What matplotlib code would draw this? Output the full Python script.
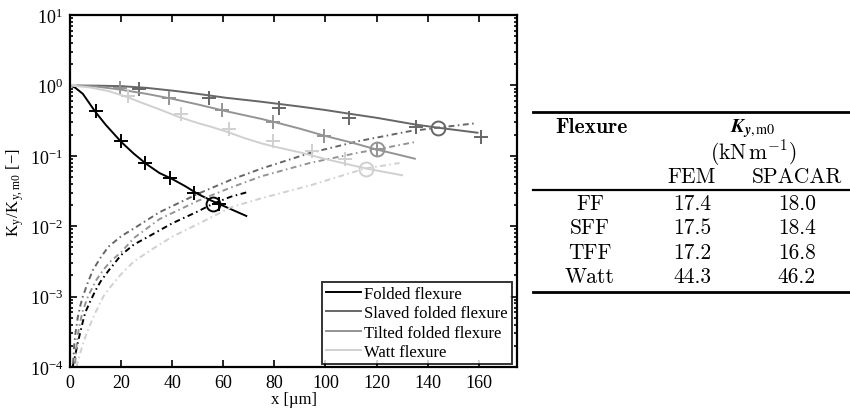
import matplotlib
matplotlib.use('Agg')
import matplotlib.pyplot as plt
from matplotlib.lines import Line2D
from matplotlib.ticker import LogLocator, NullFormatter, MultipleLocator

# ---- data ----
# Folded flexure
ff_x = [0, 2, 5, 10, 14, 20, 25, 30, 35, 40, 45, 50, 55, 60, 65, 69]
ff_k = [1.0, 0.93, 0.76, 0.417, 0.275, 0.158, 0.107, 0.076, 0.057, 0.0468, 0.0372, 0.0288, 0.0234, 0.0195, 0.0162, 0.014]
ff_fem_x = [0, 10, 20, 29.5, 39, 48.6, 58.5]
ff_fem_k = [1.0, 0.43, 0.162, 0.078, 0.049, 0.030, 0.0204]
ff_ratio_x = [1, 1.5, 2, 3, 4, 5, 6, 8, 10, 12, 15, 20, 25, 30, 40, 50, 56, 63, 69]
ff_ratio = [1.0e-4, 1.2e-4, 1.45e-4, 2.2e-4, 3.1e-4, 4.4e-4, 6.0e-4, 8.7e-4, 1.23e-3, 1.65e-3, 2.32e-3, 3.9e-3, 5.5e-3, 6.9e-3, 1.10e-2, 1.62e-2, 2.09e-2, 2.63e-2, 3.02e-2]
ff_cross = [56, 0.021]

# Slaved folded flexure
sff_x = [0, 10, 20, 30, 41.5, 50, 61, 74.5, 90, 100, 109, 120, 135, 144, 159.5]
sff_k = [1.0, 0.993, 0.977, 0.923, 0.832, 0.759, 0.668, 0.589, 0.501, 0.447, 0.398, 0.347, 0.279, 0.251, 0.213]
sff_fem_x = [0, 26.9, 54.5, 81.7, 109.1, 135.5, 160.7]
sff_fem_k = [1.0, 0.877, 0.668, 0.482, 0.340, 0.254, 0.185]
sff_ratio_x = [1.2, 1.6, 2, 3, 4, 5, 7, 9, 12, 15, 20, 25, 35, 50, 63, 75, 94, 113, 133, 144, 158]
sff_ratio = [1.12e-4, 2.0e-4, 2.82e-4, 5.0e-4, 7.4e-4, 1.0e-3, 1.6e-3, 2.4e-3, 3.6e-3, 5.1e-3, 7.2e-3, 9.3e-3, 1.58e-2, 2.88e-2, 4.57e-2, 6.6e-2, 0.110, 0.162, 0.224, 0.251, 0.288]
sff_cross = [144, 0.251]

# Tilted folded flexure
tff_x = [0, 10, 19.3, 30, 40, 50, 61, 74.5, 80, 90, 100, 110, 120, 128, 135]
tff_k = [1.0, 0.966, 0.877, 0.759, 0.646, 0.537, 0.431, 0.337, 0.302, 0.243, 0.191, 0.155, 0.123, 0.105, 0.091]
tff_fem_x = [0, 19.6, 38.9, 59.5, 79.5, 99.3, 120]
tff_fem_k = [1.0, 0.927, 0.668, 0.447, 0.302, 0.191, 0.123]
tff_ratio_x = [2, 2.5, 3, 4, 5, 7, 10, 13, 16, 20, 25, 35, 50, 63, 75, 94, 113, 120, 135]
tff_ratio = [1.12e-4, 1.9e-4, 2.82e-4, 4.4e-4, 6.3e-4, 1.0e-3, 1.66e-3, 2.4e-3, 3.2e-3, 4.27e-3, 6.8e-3, 1.26e-2, 2.29e-2, 3.55e-2, 5.13e-2, 7.94e-2, 0.111, 0.123, 0.157]
tff_cross = [120.3, 0.123]

# Watt flexure
watt_x = [0, 8, 15, 22, 28, 35, 42, 50, 55, 62, 68, 75, 80, 90, 100, 110, 116, 122, 130]
watt_k = [1.0, 0.933, 0.832, 0.692, 0.569, 0.457, 0.363, 0.292, 0.260, 0.216, 0.180, 0.150, 0.135, 0.112, 0.090, 0.074, 0.066, 0.060, 0.053]
watt_fem_x = [0, 22.6, 43.6, 62.4, 79.6, 94.8, 107.8]
watt_fem_k = [1.0, 0.708, 0.389, 0.237, 0.162, 0.117, 0.091]
watt_ratio_x = [2.5, 4, 5.5, 7.6, 10, 13, 16, 20, 25, 32, 40, 50, 63, 75, 94, 115.5, 129]
watt_ratio = [1.0e-4, 1.58e-4, 2.4e-4, 3.8e-4, 6.0e-4, 1.0e-3, 1.4e-3, 2.09e-3, 3.16e-3, 4.68e-3, 7.1e-3, 1.07e-2, 1.86e-2, 2.5e-2, 3.8e-2, 6.6e-2, 7.9e-2]
watt_cross = [115.8, 0.066]

labels = ['Folded flexure', 'Slaved folded flexure', 'Tilted folded flexure', 'Watt flexure']
colors = ['#000000', '#666666', '#949494', '#d0d0d0']

# table on the right
tab_rows = ['FF', 'SFF', 'TFF', 'Watt']
tab_fem = ['17.4', '17.5', '17.2', '44.3']
tab_spacar = ['18.0', '18.4', '16.8', '46.2']


plt.rcParams['font.family'] = 'Liberation Serif'
plt.rcParams['mathtext.fontset'] = 'cm'

fig = plt.figure(figsize=(8.5, 4.1), dpi=100)
ax = fig.add_axes([0.0824, 0.1024, 0.5259, 0.8585])

series = [
    (ff_x, ff_k, ff_fem_x, ff_fem_k, ff_ratio_x, ff_ratio, ff_cross),
    (sff_x, sff_k, sff_fem_x, sff_fem_k, sff_ratio_x, sff_ratio, sff_cross),
    (tff_x, tff_k, tff_fem_x, tff_fem_k, tff_ratio_x, tff_ratio, tff_cross),
    (watt_x, watt_k, watt_fem_x, watt_fem_k, watt_ratio_x, watt_ratio, watt_cross),
]

dashdot = (0, (3, 1.8, 0.8, 1.8))
for (x, k, fx, fk, rx, r, cr), c in zip(series, colors):
    ax.plot(x, k, color=c, lw=1.4)
    ax.plot(rx, r, color=c, lw=1.4, linestyle=dashdot)
    ax.plot(fx, fk, '+', color=c, ms=10, mew=1.4)
    ax.plot(cr[0], cr[1], 'o', mfc='none', mec=c, ms=10, mew=1.4)

ax.set_yscale('log')
ax.set_xlim(0, 175)
ax.set_ylim(1e-4, 10)
ax.xaxis.set_major_locator(MultipleLocator(20))
ax.yaxis.set_major_locator(LogLocator(base=10, numticks=10))
ax.yaxis.set_minor_locator(LogLocator(base=10, subs=range(2, 10), numticks=20))
ax.yaxis.set_minor_formatter(NullFormatter())
ax.tick_params(which='both', direction='in', top=True, right=True, labelsize=13, width=1.2)
ax.tick_params(which='major', length=5, pad=5)
ax.tick_params(which='minor', length=2.5)
for s in ax.spines.values():
    s.set_linewidth(1.6)

ax.set_xlabel('x [µm]', fontsize=12, labelpad=0)
ax.set_ylabel(r'K$_\mathdefault{y}$/K$_\mathdefault{y,m0}$ [−]', fontsize=12, labelpad=2)

handles = [Line2D([], [], color=c, lw=1.4) for c in colors]
leg = ax.legend(handles, labels, loc='lower right', bbox_to_anchor=(0.989, 0.0085),
                fontsize=12, frameon=True, fancybox=False, edgecolor='black',
                handlelength=2.1, handletextpad=0.2, labelspacing=0.2,
                borderpad=0.25, borderaxespad=0)
leg.get_frame().set_linewidth(1.4)


# ---- booktabs style table ----
W, H = 850.0, 410.0
def fx(px):
    return px / W
def fy(py):
    return 1 - py / H

for py, lw in [(113.3, 2.0), (190.7, 1.6), (293.3, 2.0)]:
    fig.add_artist(Line2D([fx(533), fx(850)], [fy(py), fy(py)], color='black', lw=lw))

fs = 15.5
fig.text(fx(591), fy(133.3), 'Flexure', family='cmb10', fontsize=fs, ha='center', va='baseline')
fig.text(fx(753), fy(132), r'$\mathbfit{K}_{\mathbfit{y},\mathrm{m0}}$', fontsize=14.5,
         ha='center', va='baseline', math_fontfamily='stix')
fig.text(fx(753), fy(159.5), r'(kN$\,$m$^{-1}$)', family='cmr10', fontsize=fs, ha='center', va='baseline')
fig.text(fx(692), fy(182.7), 'FEM', family='cmr10', fontsize=fs, ha='center', va='baseline')
fig.text(fx(797), fy(182.7), 'SPACAR', family='cmr10', fontsize=fs, ha='center', va='baseline')

for i, (name, fem, spc) in enumerate(zip(tab_rows, tab_fem, tab_spacar)):
    py = 210 + i * 24.5
    fig.text(fx(590), fy(py), name, family='cmr10', fontsize=fs, ha='center', va='baseline')
    fig.text(fx(692), fy(py), fem, family='cmr10', fontsize=fs, ha='center', va='baseline')
    fig.text(fx(797), fy(py), spc, family='cmr10', fontsize=fs, ha='center', va='baseline')

fig.savefig('out.png', dpi=100)
